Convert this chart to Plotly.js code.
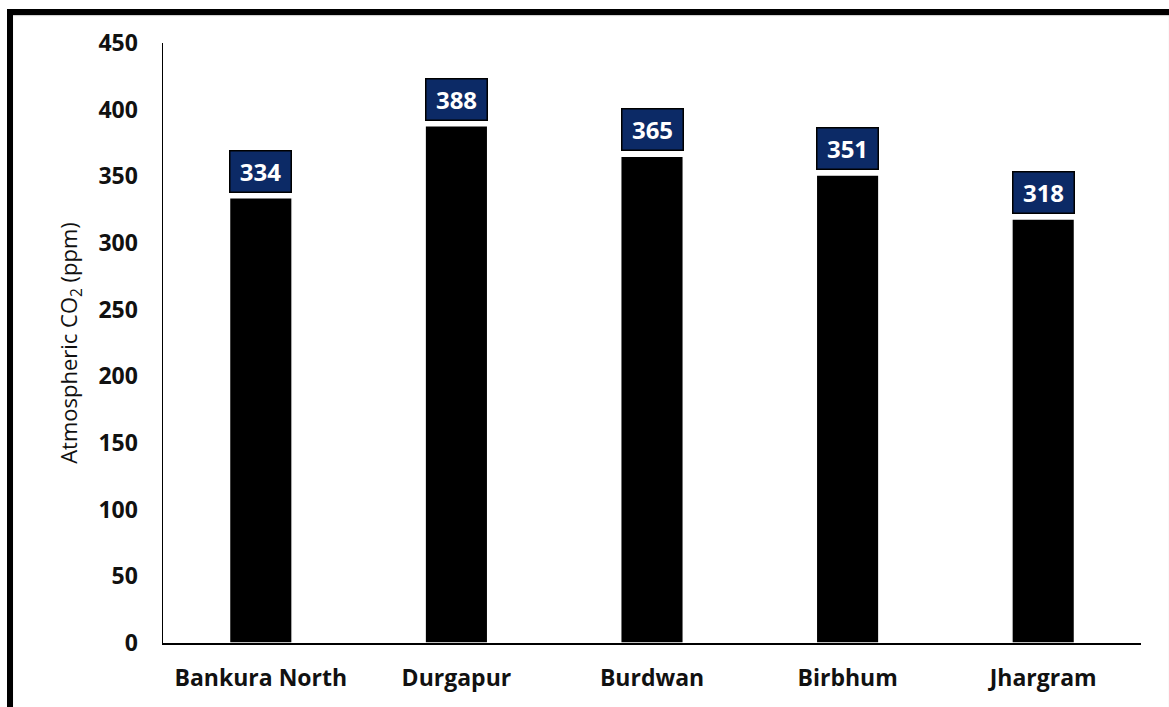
<!DOCTYPE html>
<html>
<head>
<meta charset="utf-8">
<script src="https://cdn.plot.ly/plotly-3.0.1.min.js"></script>
<style>
html,body{margin:0;padding:0;background:#fff;}
#wrap{position:relative;width:1169px;height:707px;}
#chart{position:absolute;left:0;top:0;width:1169px;height:707px;}
#frame{position:absolute;left:7px;top:9px;right:0;bottom:0;border-top:6px solid #000;border-left:6px solid #000;pointer-events:none;box-shadow:0 1px 1px #ccc inset;}
</style>
</head>
<body>
<div id="wrap"><div id="chart"></div><div id="frame"></div></div>
<script>
const categories = ["Bankura North", "Durgapur", "Burdwan", "Birbhum", "Jhargram"];
const co2Values = [334, 388, 365, 351, 318];
const yTicks = [0, 50, 100, 150, 200, 250, 300, 350, 400, 450];

const fontFam = "Open Sans, Liberation Sans, Arial, sans-serif";

const trace = {
  type: "bar",
  x: categories,
  y: co2Values,
  marker: {color: "#000000", line: {color: "#ffffff", width: 1.5}},
  hoverinfo: "x+y"
};

const annotations = categories.map((c, i) => ({
  x: c, y: co2Values[i], xref: "x", yref: "y",
  text: "<b>" + co2Values[i] + "</b>",
  showarrow: false,
  yanchor: "bottom",
  yshift: 5,
  width: 58, height: 38,
  bgcolor: "#0c2a66",
  bordercolor: "#000000",
  borderwidth: 1.5,
  borderpad: 1,
  font: {family: fontFam, size: 24, color: "#ffffff"}
}));

const layout = {
  width: 1169, height: 707,
  margin: {l: 163, r: 28, t: 43, b: 64},
  paper_bgcolor: "#ffffff",
  plot_bgcolor: "#ffffff",
  showlegend: false,
  bargap: 0.68,
  xaxis: {
    showgrid: false, zeroline: false,
    showline: true, linecolor: "#000", linewidth: 1.5,
    ticks: "", ticklabelstandoff: 14,
    tickfont: {family: fontFam, size: 23, color: "#111", weight: "bold"}
  },
  yaxis: {
    range: [0, 450],
    tickvals: yTicks,
    showgrid: false, zeroline: false,
    showline: true, linecolor: "#000", linewidth: 1.5,
    ticks: "", ticklabelstandoff: 19,
    tickfont: {family: fontFam, size: 23, color: "#111", weight: "bold"},
    title: {text: "Atmospheric CO<sub>2</sub> (ppm)", standoff: 14,
            font: {family: fontFam, size: 22, color: "#111"}}
  },
  annotations: annotations
};

Plotly.newPlot("chart", [trace], layout, {displayModeBar: false, staticPlot: true});
</script>
</body>
</html>
